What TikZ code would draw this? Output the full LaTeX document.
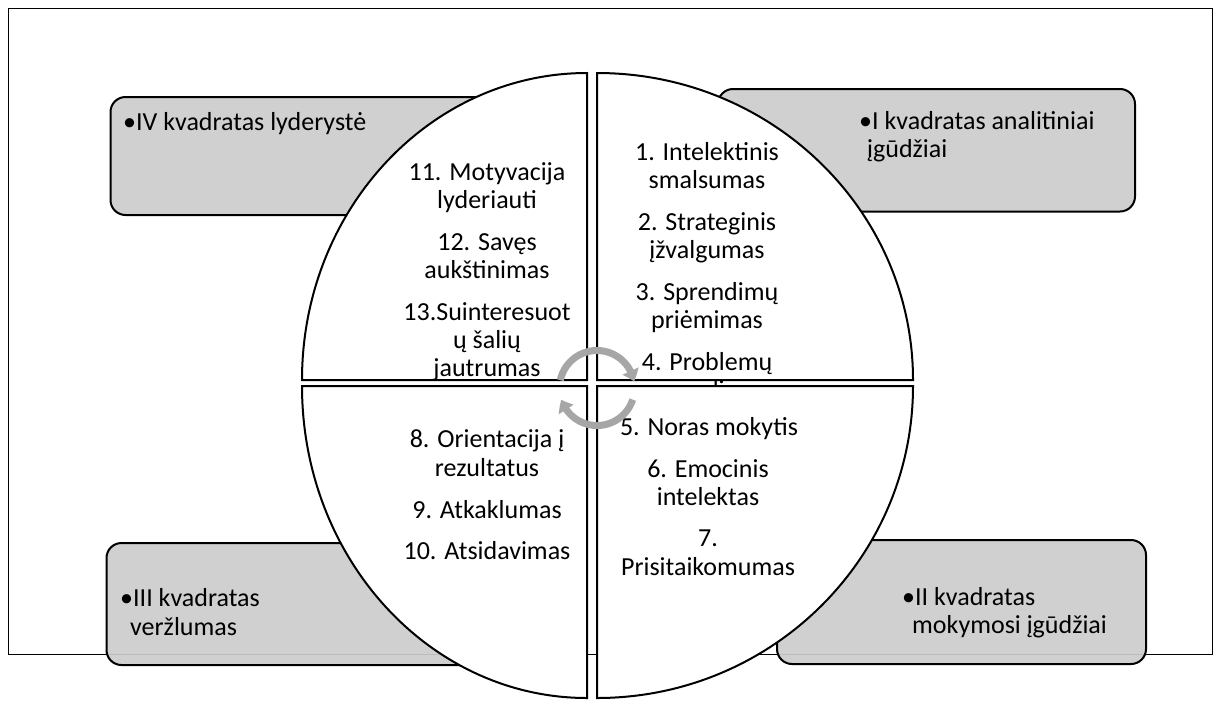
\documentclass[tikz,border=0pt]{standalone}
\usepackage{fontspec}
\setmainfont{Carlito}
\usetikzlibrary{arrows.meta,bending}
\definecolor{boxgray}{RGB}{204,204,204}
\definecolor{arrowgray}{RGB}{166,166,166}
\begin{document}
\begin{tikzpicture}[x=1pt,y=-1pt,
  quad/.style={draw=black,line width=2pt,fill=white},
  catbox/.style={draw=black,line width=2pt,fill=boxgray,fill opacity=0.92,rounded corners=15pt},
  qtext/.style={inner sep=0pt,anchor=base,font=\fontsize{26}{28}\selectfont},
  btext/.style={inner sep=0pt,anchor=base west,font=\fontsize{26}{28}\selectfont},
  cyc/.style={draw=arrowgray,line width=7pt,-{Triangle[bend,width=17pt,length=11pt]}}]
\useasboundingbox (0,0) rectangle (1214,702);
% outer frame
\draw[line width=1pt] (8.5,8.5) rectangle (1212.5,654.5);
% category boxes (behind the circle)
\draw[catbox] (110.5,97) rectangle (500,215);
\draw[catbox] (718,89) rectangle (1135,211.5);
\draw[catbox] (106.5,543) rectangle (500,665);
\draw[catbox] (777,540) rectangle (1146,664);
\node[btext] (ivA) at (123,130) {•IV kvadratas lyderystė};
\node[btext] (iA) at (859,129) {•I kvadratas analitiniai};
\node[btext] (iB) at (867,157) {įgūdžiai};
\node[btext] (iiiA) at (120,606) {•III kvadratas};
\node[btext] (iiiB) at (130,635) {veržlumas};
\node[btext] (iiA) at (902,605) {•II kvadratas};
\node[btext] (iiB) at (912,633) {mokymosi įgūdžiai};
% upper quadrants
\draw[quad] (587,380) -- (302,380) arc[start angle=180,end angle=270,x radius=285,y radius=307] -- cycle;
\draw[quad] (597,380) -- (597,73) arc[start angle=270,end angle=360,x radius=316,y radius=307] -- cycle;
\node[qtext] (tl1) at (487,180.7) {11. Motyvacija};
\node[qtext] (tl2) at (487,208.5) {lyderiauti};
\node[qtext] (tl3) at (487,250) {12. Savęs};
\node[qtext] (tl4) at (487,278) {aukštinimas};
\node[qtext] (tl5) at (487,320) {13.Suinteresuot};
\node[qtext] (tl6) at (487,348) {ų šalių};
\node[qtext] (tl7) at (487,376.5) {jautrumas};
\node[qtext] (tr1) at (707,160) {1. Intelektinis};
\node[qtext] (tr2) at (707,188) {smalsumas};
\node[qtext] (tr3) at (707,230) {2. Strateginis};
\node[qtext] (tr4) at (707,258) {įžvalgumas};
\node[qtext] (tr5) at (707,300) {3. Sprendimų};
\node[qtext] (tr6) at (707,328) {priėmimas};
\node[qtext] (tr7) at (707,370) {4. Problemų};
\node[qtext] (tr8) at (707,398) {sprendimas};
% lower quadrants
\draw[quad] (587,386) -- (302,386) arc[start angle=180,end angle=90,x radius=285,y radius=312] -- cycle;
\draw[quad] (597,386) -- (913,386) arc[start angle=0,end angle=90,x radius=316,y radius=312] -- cycle;
\node[qtext] (bl1) at (487,447.5) {8. Orientacija į};
\node[qtext] (bl2) at (487,476) {rezultatus};
\node[qtext] (bl3) at (487,518) {9. Atkaklumas};
\node[qtext] (bl4) at (487,559) {10. Atsidavimas};
\node[qtext] (br1) at (709,435) {5. Noras mokytis};
\node[qtext] (br2) at (708,477) {6. Emocinis};
\node[qtext] (br3) at (708,505) {intelektas};
\node[qtext] (br4) at (708,546) {7.};
\node[qtext] (br5) at (708,575) {Prisitaikomumas};
% cycle arrows in the centre
\draw[cyc] (560.3,380.2) arc[start angle=-168,end angle=-10,radius=37.5];
\draw[cyc] (632.7,399.6) arc[start angle=18,end angle=162,radius=37.5];
\end{tikzpicture}
\end{document}
